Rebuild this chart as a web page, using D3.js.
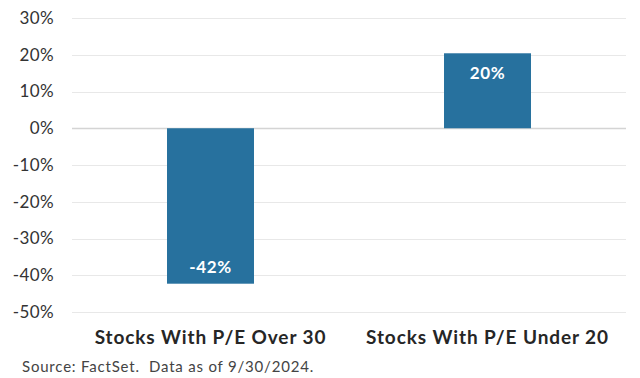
<!DOCTYPE html>
<html>
<head>
<meta charset="utf-8">
<script src="https://cdn.jsdelivr.net/npm/d3@7"></script>
<style>
  body { margin: 0; background: #fff; }
  svg { font-family: Lato, "Open Sans", sans-serif; display: block; }
</style>
</head>
<body>
<div id="chart"></div>
<script>
var categories = ["Stocks With P/E Over 30", "Stocks With P/E Under 20"];
var values = [-42.3, 20.4];
var valueLabels = ["-42%", "20%"];
var yTicks = [30, 20, 10, 0, -10, -20, -30, -40, -50];
var source = "Source: FactSet.  Data as of 9/30/2024.";

var width = 640, height = 378;
var plotLeft = 72, plotRight = 626, plotTop = 18, plotBottom = 312;

var svg = d3.select("#chart").append("svg")
    .attr("width", width)
    .attr("height", height);

var x = d3.scaleBand()
    .domain(categories)
    .range([plotLeft, plotRight])
    .paddingInner(0.686)
    .paddingOuter(0.343);

var y = d3.scaleLinear()
    .domain([-50, 30])
    .range([plotBottom, plotTop]);

// gridlines
svg.append("g")
    .selectAll("line")
    .data(yTicks)
  .enter().append("line")
    .attr("x1", plotLeft)
    .attr("x2", plotRight)
    .attr("y1", function(d) { return Math.round(y(d)) + 0.5; })
    .attr("y2", function(d) { return Math.round(y(d)) + 0.5; })
    .attr("stroke", function(d) { return d === 0 ? "#d4d4d4" : "#e8e8e8"; })
    .attr("stroke-width", function(d) { return d === 0 ? 1.5 : 1; });

// y axis labels
svg.append("g")
    .selectAll("text")
    .data(yTicks)
  .enter().append("text")
    .attr("x", 54)
    .attr("y", function(d) { return y(d); })
    .attr("dy", "0.35em")
    .attr("text-anchor", "end")
    .attr("font-size", "17px")
    .attr("letter-spacing", "0.4px")
    .attr("fill", "#333")
    .text(function(d) { return d + "%"; });

// bars
svg.append("g")
    .selectAll("rect")
    .data(values)
  .enter().append("rect")
    .attr("x", function(d, i) { return x(categories[i]); })
    .attr("width", x.bandwidth())
    .attr("y", function(d) { return y(Math.max(0, d)); })
    .attr("height", function(d) { return Math.abs(y(d) - y(0)); })
    .attr("fill", "#27719e");

// bar value labels
svg.append("g")
    .selectAll("text")
    .data(values)
  .enter().append("text")
    .attr("x", function(d, i) { return x(categories[i]) + x.bandwidth() / 2; })
    .attr("y", function(d) { return d >= 0 ? y(d) + 20 : y(d) - 17; })
    .attr("dy", "0.35em")
    .attr("text-anchor", "middle")
    .attr("font-size", "17px")
    .attr("font-weight", "bold")
    .attr("letter-spacing", "0.6px")
    .attr("fill", "#fff")
    .text(function(d, i) { return valueLabels[i]; });

// category labels
svg.append("g")
    .selectAll("text")
    .data(categories)
  .enter().append("text")
    .attr("x", function(d) { return x(d) + x.bandwidth() / 2; })
    .attr("y", 337)
    .attr("dy", "0.35em")
    .attr("text-anchor", "middle")
    .attr("font-size", "19px")
    .attr("font-weight", "bold")
    .attr("letter-spacing", "0.9px")
    .attr("fill", "#262626")
    .text(function(d) { return d; });

svg.append("text")
    .attr("x", 22)
    .attr("y", 367)
    .attr("dy", "0.35em")
    .attr("font-size", "15px")
    .attr("letter-spacing", "0.8px")
    .attr("fill", "#444")
    .style("white-space", "pre")
    .text(source);
</script>
</body>
</html>
